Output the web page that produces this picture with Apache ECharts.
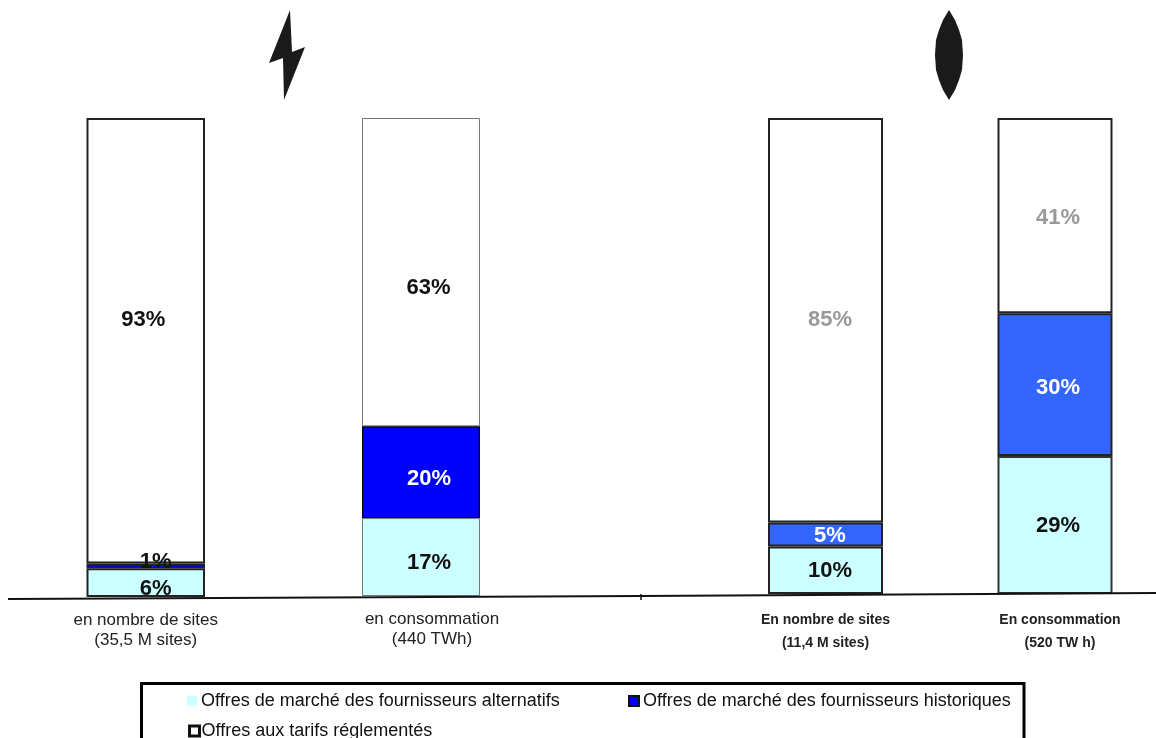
<!DOCTYPE html>
<html><head><meta charset="utf-8">
<style>html,body{margin:0;padding:0;background:#fff}#c{width:1156px;height:738px}</style>
<script src="https://cdn.jsdelivr.net/npm/echarts@6/dist/echarts.min.js"></script>
</head><body><div id="c"></div>
<script>
const categories = ["en nombre de sites\n(35,5 M sites)", "en consommation\n(440 TWh)", "En nombre de sites\n(11,4 M sites)", "En consommation\n(520 TW h)"];
const seriesNames = ["Offres de marché des fournisseurs alternatifs", "Offres de marché des fournisseurs historiques", "Offres aux tarifs réglementés"];
// segment heights (% of bar)
const alternatifs = [6, 16.3, 10, 29];
const historiques = [1, 19.2, 5, 30];
const tarifs = [93, 64.5, 85, 41];
// printed labels
const labelsAlternatifs = ["6%", "17%", "10%", "29%"];
const labelsHistoriques = ["1%", "20%", "5%", "30%"];
const labelsTarifs = ["93%", "63%", "85%", "41%"];

const values = [alternatifs, historiques, tarifs];
const labels = [labelsAlternatifs, labelsHistoriques, labelsTarifs];
const barBox = [[86.5, 118, 118.5, 479], [362, 118, 118, 478], [768, 118, 115, 476], [997.5, 118, 115, 476]];
const fills = [["#ccffff", "#0000ff", "#ffffff"], ["#ccffff", "#0000ff", "#ffffff"], ["#ccffff", "#3366ff", "#ffffff"], ["#ccffff", "#3366ff", "#ffffff"]];
const borders = [[2, 1.5, 2], [1, 1.2, 1], [2, 2, 2], [2, 2, 2]];
const borderColors = [["#222", "#222", "#222"], ["#777", "#000", "#777"], ["#222", "#222", "#222"], ["#333", "#222", "#222"]];
const labelColors = [["#111", "#111", "#111"], ["#111", "#fff", "#111"], ["#111", "#fff", "#999"], ["#111", "#fff", "#999"]];
const labelNudge = [
  [[10, 6], [10, -4], [-2.5, -21]],
  [[8, 6], [8, 7], [7.5, 16]],
  [[4.5, 1], [4.5, 1], [4.5, 0]],
  [[3, 1], [3, 3], [3, 2]]
];
const axisLabelShift = [0, 22, 0, 10];

const grids = [], xAxes = [], yAxes = [], series = [];
categories.forEach((cat, g) => {
  const b = barBox[g];
  grids.push({left: b[0], top: b[1], width: b[2], height: b[3]});
  const bold = g >= 2;
  xAxes.push({type: "category", gridIndex: g, data: [cat],
    axisLine: {show: false}, axisTick: {show: false},
    axisLabel: {interval: 0, margin: bold ? 15 : 13, color: "#222", fontFamily: "Liberation Sans",
      fontSize: bold ? 14 : 17, fontWeight: bold ? "bold" : "normal", lineHeight: bold ? 23 : 20,
      padding: [0, 0, 0, axisLabelShift[g]]}});
  yAxes.push({type: "value", gridIndex: g, min: 0, max: 100, show: false});
  seriesNames.forEach((name, s) => {
    series.push({type: "bar", name, xAxisIndex: g, yAxisIndex: g, stack: "s" + g, barWidth: "100%",
      z: s === 1 ? 3 : 2,
      data: [values[s][g]],
      itemStyle: {color: fills[g][s], borderColor: borderColors[g][s], borderWidth: borders[g][s]},
      label: {show: true, position: "inside", formatter: labels[s][g], color: labelColors[g][s],
        fontFamily: "Liberation Sans", fontWeight: "bold", fontSize: 22, offset: labelNudge[g][s]}});
  });
});

const legendBase = {orient: "horizontal", icon: "rect", itemWidth: 10, itemHeight: 10, itemGap: 4, padding: 0,
  textStyle: {fontFamily: "Liberation Sans", fontSize: 18, color: "#111", padding: [0, 0, 0, -1]}};

const chart = echarts.init(document.getElementById("c"), null, {renderer: "canvas"});
chart.setOption({
  animation: false, backgroundColor: "#fff",
  grid: grids, xAxis: xAxes, yAxis: yAxes, series,
  legend: [
    Object.assign({}, legendBase, {left: 187, top: 692, data: [{name: seriesNames[0], itemStyle: {borderWidth: 0}}]}),
    Object.assign({}, legendBase, {left: 628, top: 692, data: [{name: seriesNames[1], itemStyle: {borderColor: "#111", borderWidth: 2}}]}),
    Object.assign({}, legendBase, {left: 188, top: 722, itemGap: 2, textStyle: {fontFamily: "Liberation Sans", fontSize: 18, color: "#111", padding: [0, 0, 0, -3]}, data: [{name: seriesNames[2], itemStyle: {borderColor: "#111", borderWidth: 3}}]})
  ],
  graphic: [
    {type: "polyline", shape: {points: [[8, 599], [641, 596], [1156, 593]]}, style: {stroke: "#111", lineWidth: 2}, z: 20},
    {type: "line", shape: {x1: 641, y1: 594, x2: 641, y2: 600}, style: {stroke: "#111", lineWidth: 1.5}, z: 20},
    {type: "rect", shape: {x: 141.5, y: 683.5, width: 882.5, height: 80}, style: {fill: "none", stroke: "#000", lineWidth: 3}, z: 1},
    {type: "polygon", shape: {points: [[290, 10], [292, 52], [305, 47], [284, 100], [283, 58], [269, 63]]}, style: {fill: "#1a1a1a"}},
    {type: "polygon", shape: {points: [[949,10],[955,20],[959,30],[962,40],[963,55],[962,70],[959,80],[955,90],[949,100],[943,90],[939,80],[936,70],[935,55],[936,40],[939,30],[943,20]]}, style: {fill: "#1a1a1a"}}
  ]
});
</script></body></html>
